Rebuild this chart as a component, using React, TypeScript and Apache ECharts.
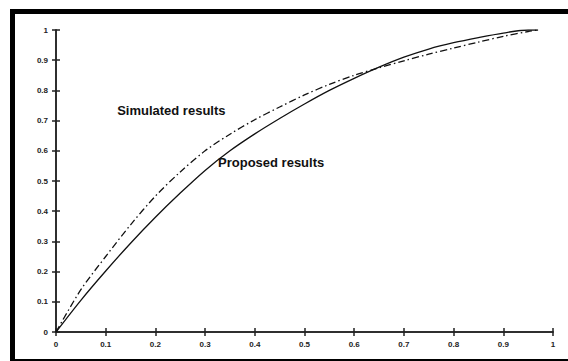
import React, { useEffect, useRef } from "react";
import * as echarts from "echarts";

const xValues = [0, 0.05, 0.1, 0.15, 0.2, 0.25, 0.3, 0.35, 0.4, 0.45, 0.5, 0.55, 0.6, 0.65, 0.7, 0.75, 0.8, 0.85, 0.9, 0.95, 0.97];
const proposed = [0, 0.105, 0.202, 0.294, 0.38, 0.46, 0.535, 0.6, 0.656, 0.707, 0.755, 0.8, 0.84, 0.877, 0.91, 0.937, 0.958, 0.975, 0.99, 1.0, 1.0];
const simulated = [0, 0.14, 0.25, 0.355, 0.45, 0.53, 0.6, 0.655, 0.703, 0.745, 0.785, 0.82, 0.85, 0.875, 0.898, 0.92, 0.94, 0.96, 0.979, 0.995, 1.0];
const simulatedLabel = "Simulated results";
const proposedLabel = "Proposed results";
const simulatedLabelAt = [0.123, 0.735];
const proposedLabelAt = [0.326, 0.56];

export default function App() {
  const ref = useRef<HTMLDivElement>(null);
  useEffect(() => {
    if (!ref.current) return;
    const chart = echarts.init(ref.current, null, { renderer: "svg" });
    const fmt = (v: number) => String(+(+v).toFixed(1));
    const axisLine = { show: true, lineStyle: { color: "#222", width: 1.5 } };
    const tick = { show: true, inside: true, length: 4, lineStyle: { color: "#222", width: 1.5 } };
    const lbl = { fontSize: 8, fontWeight: "bold" as const, color: "#222", fontFamily: "Liberation Sans", formatter: fmt };
    const textStyle = { fontSize: 13, fontWeight: "bold" as const, color: "#111", fontFamily: "Liberation Sans" };
    chart.setOption({
      animation: false,
      backgroundColor: "#fff",
      grid: { left: 56, right: 15, top: 30, bottom: 29 },
      graphic: [
        {
          type: "rect",
          shape: { x: 12.5, y: 11.5, width: 562, height: 350 },
          style: { fill: "none", stroke: "#000", lineWidth: 5 },
          silent: true,
        },
      ],
      xAxis: [
        { type: "value", min: 0, max: 1, interval: 0.1, position: "bottom", axisLine, axisTick: tick, axisLabel: { ...lbl, margin: 8 }, splitLine: { show: false } },
        { type: "value", min: 0, max: 1, interval: 0.1, position: "top", axisLine, axisTick: tick, axisLabel: { show: false }, splitLine: { show: false } },
      ],
      yAxis: [
        { type: "value", min: 0, max: 1, interval: 0.1, position: "left", axisLine, axisTick: tick, axisLabel: { ...lbl, margin: 8 }, splitLine: { show: false } },
        { type: "value", min: 0, max: 1, interval: 0.1, position: "right", axisLine, axisTick: tick, axisLabel: { show: false }, splitLine: { show: false } },
      ],
      series: [
        {
          type: "line",
          name: proposedLabel,
          data: xValues.map((x, i) => [x, proposed[i]]),
          showSymbol: false,
          smooth: 0.3,
          lineStyle: { color: "#111", width: 1.3, type: "solid" },
          markPoint: {
            symbol: "circle",
            symbolSize: 0,
            data: [{ coord: proposedLabelAt }],
            label: { show: true, position: "right", distance: 0, formatter: proposedLabel, ...textStyle },
          },
        },
        {
          type: "line",
          name: simulatedLabel,
          data: xValues.map((x, i) => [x, simulated[i]]),
          showSymbol: false,
          smooth: 0.3,
          lineStyle: { color: "#111", width: 1.3, type: [7, 3, 1.5, 3] },
          markPoint: {
            symbol: "circle",
            symbolSize: 0,
            data: [{ coord: simulatedLabelAt }],
            label: { show: true, position: "right", distance: 0, formatter: simulatedLabel, ...textStyle },
          },
        },
      ],
    });
    return () => chart.dispose();
  }, []);
  return <div ref={ref} style={{ position: "fixed", left: 0, top: 0, width: 568, height: 361 }} />;
}
